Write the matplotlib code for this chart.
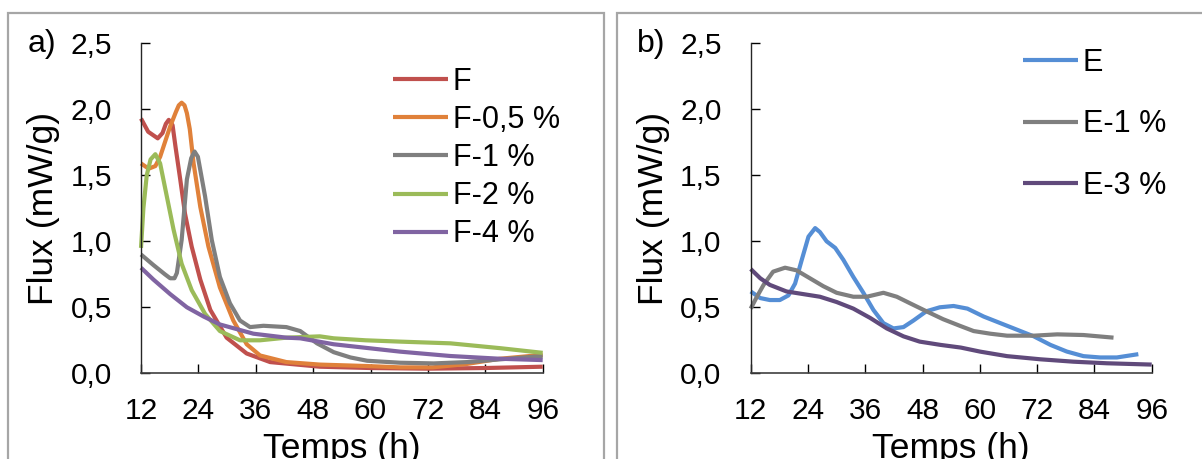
import matplotlib
matplotlib.use("Agg")
import matplotlib.pyplot as plt
from matplotlib.patches import Rectangle

plt.rcParams['font.family'] = ['Liberation Sans', 'DejaVu Sans']

# panel a) : F series
t_F = [12, 13.5, 15.5, 16.5, 17.2, 17.8, 18.6, 19.2, 20.2, 21.2, 22.6, 24.4, 26.5, 29.9, 34.1, 39, 49.4, 60, 72, 84, 96]
y_F = [1.93, 1.83, 1.78, 1.82, 1.89, 1.92, 1.88, 1.72, 1.47, 1.21, 0.96, 0.71, 0.48, 0.27, 0.15, 0.085, 0.05, 0.04, 0.035, 0.04, 0.05]

t_F05 = [12, 13.6, 15, 16, 17, 18.1, 19.3, 19.9, 20.5, 21.1, 21.6, 22.2, 23, 24.4, 26.1, 28.5, 31.3, 34.1, 36.9, 42.4, 49.4, 59.3, 66.2, 73, 80, 87, 96]
y_F05 = [1.59, 1.55, 1.57, 1.64, 1.75, 1.87, 1.98, 2.03, 2.05, 2.03, 1.97, 1.85, 1.59, 1.26, 0.96, 0.65, 0.40, 0.22, 0.135, 0.085, 0.066, 0.055, 0.045, 0.045, 0.07, 0.11, 0.14]

t_F1 = [12, 14.6, 17, 18.1, 19.0, 19.5, 20.5, 21.6, 22.5, 23.2, 23.9, 25.4, 26.8, 28.5, 30.6, 32.7, 34.8, 37.6, 42.4, 45.3, 48.8, 52.3, 55.8, 59.3, 66.2, 73.2, 80.2, 87.2, 94.1, 96]
y_F1 = [0.90, 0.82, 0.75, 0.72, 0.72, 0.76, 1.01, 1.47, 1.63, 1.68, 1.64, 1.34, 1.01, 0.73, 0.53, 0.40, 0.35, 0.36, 0.35, 0.32, 0.227, 0.16, 0.12, 0.095, 0.08, 0.075, 0.085, 0.106, 0.126, 0.13]

t_F2 = [12, 12.5, 13.2, 14, 15, 16, 17.4, 18.8, 20.5, 22.6, 25.4, 28.5, 32.7, 36.9, 42.4, 49.4, 52.3, 59, 66.2, 76.7, 87.2, 96]
y_F2 = [0.95, 1.25, 1.50, 1.62, 1.66, 1.59, 1.34, 1.09, 0.83, 0.63, 0.45, 0.32, 0.25, 0.25, 0.27, 0.28, 0.265, 0.25, 0.24, 0.227, 0.19, 0.155]

t_F4 = [12, 14.6, 18.1, 21.6, 25.1, 28.5, 35.5, 42.4, 45.3, 52.3, 66.2, 76.7, 87.2, 96]
y_F4 = [0.80, 0.71, 0.60, 0.50, 0.43, 0.37, 0.30, 0.27, 0.265, 0.22, 0.164, 0.131, 0.11, 0.10]

# panel b) : E series
t_E = [12, 14, 16, 18.1, 19.9, 21.3, 22.7, 24.1, 25.5, 26.5, 27.9, 29.7, 31.4, 33.5, 35.6, 37.7, 39.8, 41.9, 44, 46.1, 48.8, 51.6, 54.5, 57.4, 60.8, 64.3, 67.8, 71.3, 74.8, 78.2, 81.7, 85.2, 88.7, 93.2]
y_E = [0.62, 0.57, 0.555, 0.555, 0.59, 0.68, 0.86, 1.035, 1.10, 1.07, 1.0, 0.95, 0.86, 0.73, 0.61, 0.48, 0.38, 0.34, 0.35, 0.40, 0.47, 0.50, 0.51, 0.49, 0.43, 0.38, 0.33, 0.28, 0.215, 0.165, 0.13, 0.12, 0.12, 0.145]

t_E1 = [12, 13.3, 14.7, 16.7, 19.2, 21.6, 24.4, 27.2, 30, 33.5, 36.3, 39.8, 42.6, 45.4, 48.8, 52.3, 55.8, 58.7, 62.2, 65.7, 71.3, 76.2, 81.7, 88]
y_E1 = [0.49, 0.58, 0.67, 0.77, 0.80, 0.78, 0.72, 0.66, 0.61, 0.58, 0.58, 0.61, 0.58, 0.53, 0.47, 0.41, 0.36, 0.32, 0.30, 0.285, 0.285, 0.295, 0.29, 0.27]

t_E3 = [12, 14, 16, 19.5, 23, 26.5, 30, 33.5, 37, 40.5, 44, 47.4, 51.8, 56, 60.1, 65.7, 72.7, 79.6, 86.6, 96]
y_E3 = [0.79, 0.72, 0.67, 0.62, 0.60, 0.58, 0.54, 0.49, 0.42, 0.34, 0.28, 0.24, 0.215, 0.195, 0.164, 0.13, 0.106, 0.088, 0.076, 0.066]

x_ticks = [12, 24, 36, 48, 60, 72, 84, 96]
y_ticks = [0.0, 0.5, 1.0, 1.5, 2.0, 2.5]

W, H = 1202, 459
fig = plt.figure(figsize=(W / 100, H / 100), dpi=100)

def fx(px):
    return px / W

def fy(py):
    return 1 - py / H

# grey panel frames
fig.patches.append(Rectangle((fx(8), fy(480)), fx(604 - 8), (480 - 12.7) / H,
                             transform=fig.transFigure, fill=False, ec='#a6a6a6', lw=1.6))
fig.patches.append(Rectangle((fx(616.7), fy(480)), fx(700), (480 - 12.7) / H,
                             transform=fig.transFigure, fill=False, ec='#a6a6a6', lw=1.6))

ax1 = fig.add_axes([fx(141), fy(373.3), fx(542.7 - 141), (373.3 - 43.3) / H])
ax2 = fig.add_axes([fx(750.7), fy(373.3), fx(1151.7 - 750.7), (373.3 - 43.3) / H])

lw = 3.0
ax1.plot(t_F, y_F, color='#C0504D', lw=lw, label='F')
ax1.plot(t_F05, y_F05, color='#E0813A', lw=lw, label='F-0,5 %')
ax1.plot(t_F1, y_F1, color='#7F7F7F', lw=lw, label='F-1 %')
ax1.plot(t_F2, y_F2, color='#9BBB59', lw=lw, label='F-2 %')
ax1.plot(t_F4, y_F4, color='#8064A2', lw=lw, label='F-4 %')

ax2.plot(t_E, y_E, color='#558ED5', lw=lw, label='E')
ax2.plot(t_E1, y_E1, color='#7F7F7F', lw=lw, label='E-1 %')
ax2.plot(t_E3, y_E3, color='#604A7B', lw=lw, label='E-3 %')

for ax in (ax1, ax2):
    for ln in ax.get_lines():
        ln.set_solid_capstyle('butt')
        ln.set_solid_joinstyle('round')
        ln.set_clip_on(False)
    ax.set_xlim(12, 96)
    ax.set_ylim(0, 2.5)
    ax.set_xticks(x_ticks)
    ax.set_yticks(y_ticks)
    ax.set_yticklabels([f"{v:.1f}".replace('.', ',') for v in y_ticks])
    ax.spines['top'].set_visible(False)
    ax.spines['right'].set_visible(False)
    ax.spines['left'].set_color('#262626')
    ax.spines['bottom'].set_color('#404040')
    ax.spines['left'].set_linewidth(1.0)
    ax.spines['bottom'].set_linewidth(1.2)
    ax.tick_params(axis='y', direction='in', length=6.5, width=1.0, pad=21, labelsize=21.5)
    ax.tick_params(axis='x', direction='in', length=6.5, width=1.0, pad=17, labelsize=21.5)

fig.text(fx(28), fy(44), 'a)', fontsize=23, ha='left', va='center')
fig.text(fx(636.7), fy(44), 'b)', fontsize=23, ha='left', va='center')
fig.text(fx(44), fy(208), 'Flux (mW/g)', fontsize=25.5, rotation=90, ha='center', va='center')
fig.text(fx(654), fy(208), 'Flux (mW/g)', fontsize=25.5, rotation=90, ha='center', va='center')
fig.text(fx(342), fy(458), 'Temps (h)', fontsize=25.5, ha='center', va='baseline')
fig.text(fx(951), fy(458), 'Temps (h)', fontsize=25.5, ha='center', va='baseline')

ax1.legend(loc='upper left', bbox_to_anchor=(fx(393), fy(66.5)), bbox_transform=fig.transFigure,
           frameon=False, fontsize=22, handlelength=1.8, handletextpad=0.16,
           labelspacing=0.27, borderpad=0, borderaxespad=0)
ax2.legend(loc='upper left', bbox_to_anchor=(fx(1023), fy(47.8)), bbox_transform=fig.transFigure,
           frameon=False, fontsize=22, handlelength=1.8, handletextpad=0.16,
           labelspacing=1.035, borderpad=0, borderaxespad=0)

fig.savefig('out.png', dpi=100)
